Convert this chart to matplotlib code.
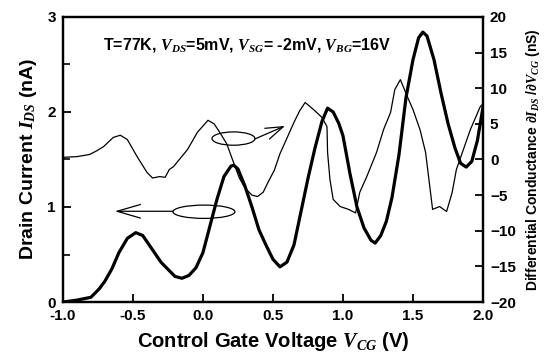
import numpy as np
import matplotlib
matplotlib.use('Agg')
import matplotlib.pyplot as plt
from matplotlib.patches import Ellipse

plt.rcParams['font.family'] = ['Liberation Sans', 'DejaVu Sans']
plt.rcParams['font.weight'] = 'bold'
plt.rcParams['axes.labelweight'] = 'bold'
plt.rcParams['mathtext.fontset'] = 'custom'
plt.rcParams['mathtext.it'] = 'Liberation Serif:italic:bold'
plt.rcParams['mathtext.rm'] = 'Liberation Sans:bold'
plt.rcParams['mathtext.bf'] = 'Liberation Sans:bold'

# drain current I_DS (nA) vs control gate voltage (V)
vcg_i = [-1.0, -0.9, -0.8, -0.74, -0.7, -0.65, -0.6, -0.54, -0.48, -0.43, -0.36, -0.3,
         -0.26, -0.2, -0.15, -0.1, -0.05, 0.0, 0.05, 0.1, 0.15, 0.2, 0.22, 0.25, 0.3,
         0.35, 0.4, 0.45, 0.5, 0.55, 0.6, 0.65, 0.7, 0.75, 0.8, 0.85, 0.89, 0.93, 0.97,
         1.0, 1.05, 1.1, 1.15, 1.2, 1.23, 1.27, 1.31, 1.35, 1.4, 1.45, 1.5, 1.54, 1.57,
         1.6, 1.65, 1.7, 1.75, 1.8, 1.84, 1.88, 1.92, 1.96, 2.0]
ids = [0.0, 0.02, 0.05, 0.14, 0.22, 0.35, 0.52, 0.67, 0.73, 0.7, 0.55, 0.42,
       0.36, 0.27, 0.25, 0.28, 0.36, 0.52, 0.8, 1.08, 1.32, 1.43, 1.44, 1.4, 1.22,
       1.0, 0.76, 0.6, 0.45, 0.37, 0.42, 0.6, 0.95, 1.3, 1.62, 1.9, 2.04, 2.0, 1.88,
       1.75, 1.35, 1.0, 0.78, 0.65, 0.62, 0.7, 0.85, 1.1, 1.55, 2.15, 2.55, 2.78, 2.84,
       2.8, 2.55, 2.2, 1.88, 1.62, 1.46, 1.42, 1.48, 1.7, 2.05]

# differential conductance dI/dV (nS)
vcg_g = [-1.0, -0.9, -0.81, -0.76, -0.71, -0.64, -0.59, -0.54, -0.47, -0.4, -0.36,
         -0.31, -0.27, -0.24, -0.21, -0.11, -0.04, 0.036, 0.08, 0.12, 0.17, 0.22, 0.26,
         0.3, 0.35, 0.39, 0.43, 0.47, 0.51, 0.55, 0.6, 0.65, 0.69, 0.73, 0.79, 0.85,
         0.886, 0.89, 0.907, 0.93, 0.98, 1.04, 1.09, 1.12, 1.17, 1.24, 1.29, 1.34, 1.37,
         1.41, 1.46, 1.5, 1.55, 1.59, 1.62, 1.64, 1.69, 1.74, 1.78, 1.81, 1.86, 1.91,
         1.98, 2.0]
dgdv = [0.3, 0.4, 0.7, 1.2, 1.8, 3.1, 3.4, 2.8, 0.4, -1.8, -2.6, -2.4, -2.5, -1.4,
        -1.0, 1.4, 3.8, 5.5, 5.0, 3.8, 2.2, -0.5, -2.6, -4.0, -5.0, -5.2, -4.6,
        -3.0, -1.5, 0.8, 3.0, 5.2, 6.8, 8.0, 7.0, 5.9, 4.6, 1.0, -2.8, -5.6, -6.6,
        -7.0, -7.5, -4.6, -2.4, 1.0, 4.2, 6.6, 9.8, 11.2, 8.8, 7.0, 4.2, 1.0, -3.8,
        -7.0, -6.6, -7.3, -4.6, -1.4, 1.4, 4.2, 7.4, 7.8]

fig = plt.figure(figsize=(5.47, 3.6), dpi=100)
ax = fig.add_axes([0.115, 0.161, 0.768, 0.792])
ax2 = ax.twinx()

ax.plot(vcg_i, ids, color='black', lw=2.3, solid_joinstyle='round')
ax2.plot(vcg_g, dgdv, color='black', lw=0.9)

ax.set_xlim(-1.0, 2.0)
ax.set_ylim(0, 3)
ax2.set_ylim(-20, 20)
ax.set_xticks(np.arange(-1.0, 2.01, 0.5))
ax.set_xticklabels(['%.1f' % v for v in np.arange(-1.0, 2.01, 0.5)])
ax.set_yticks([0, 1, 2, 3])
ax.set_yticks([0.5, 1.5, 2.5], minor=True)
ax2.set_yticks(np.arange(-20, 21, 5))

ax.tick_params(axis='both', which='major', direction='in', length=6, width=1.3,
               labelsize=11, pad=5)
ax.tick_params(axis='y', which='minor', direction='in', length=5, width=1.2)
ax2.tick_params(axis='y', direction='in', length=6, width=1.3, labelsize=11, pad=5)
for a in (ax, ax2):
    for s in a.spines.values():
        s.set_linewidth(1.6)

ax.set_xlabel('Control Gate Voltage $V_{CG}$ (V)', fontsize=14.5, labelpad=5)
ax.set_ylabel('Drain Current $I_{DS}$ (nA)', fontsize=14, labelpad=6)
ax2.set_ylabel(r'Differential Conductance $\partial I_{DS}$ /$\partial V_{CG}$ (nS)',
               fontsize=10, labelpad=6)

ax.text(0.095, 0.902, 'T=77K, $V_{DS}$=5mV, $V_{SG}$= -2mV, $V_{BG}$=16V',
        transform=ax.transAxes, fontsize=11.5, va='center', ha='left')

ax.add_patch(Ellipse((0.007, 0.95), 0.443, 0.14, fill=False, lw=0.9, color='black'))
ax.annotate('', xy=(-0.629, 0.955), xytext=(-0.214, 0.955),
            arrowprops=dict(arrowstyle='->,head_length=1.2,head_width=0.35',
                            mutation_scale=14, lw=0.9, color='black',
                            shrinkA=0, shrinkB=0))
ax.add_patch(Ellipse((0.218, 1.72), 0.307, 0.14, fill=False, lw=0.9, color='black'))
ax.annotate('', xy=(0.586, 1.853), xytext=(0.371, 1.716),
            arrowprops=dict(arrowstyle='->,head_length=0.9,head_width=0.3',
                            mutation_scale=14, lw=0.9, color='black',
                            shrinkA=0, shrinkB=0))

fig.savefig('out.png', dpi=100)
